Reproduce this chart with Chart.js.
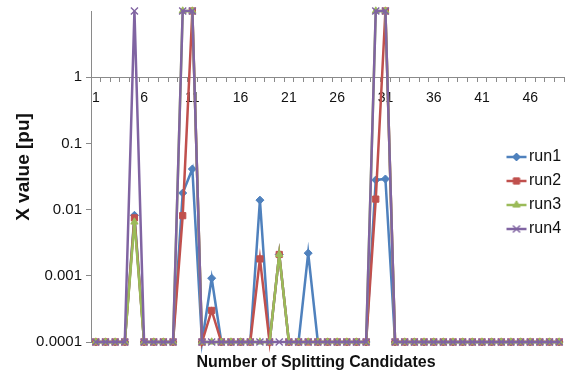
<!DOCTYPE html>
<html>
<head>
<meta charset="utf-8">
<title>X value per splitting candidate</title>
<script src="https://cdn.jsdelivr.net/npm/chart.js@4/dist/chart.umd.min.js"></script>
<style>
  html, body { margin: 0; padding: 0; background: #ffffff; }
  #wrap { width: 571px; height: 379px; }
</style>
</head>
<body>
<div id="wrap"><canvas id="chart" width="571" height="379"></canvas></div>
<script>
// Candidate numbers on the category axis
const candidates = [
  '1','2','3','4','5','6','7','8','9','10',
  '11','12','13','14','15','16','17','18','19','20',
  '21','22','23','24','25','26','27','28','29','30',
  '31','32','33','34','35','36','37','38','39','40',
  '41','42','43','44','45','46','47','48','49'
];

// X value [pu] of each run
const run1 = [
  0.0001, 0.0001, 0.0001, 0.0001, 0.0082, 0.0001, 0.0001, 0.0001, 0.0001, 0.0178,
  0.041,  0.0001, 0.00092, 0.0001, 0.0001, 0.0001, 0.0001, 0.0139, 0.0001, 0.0021,
  0.0001, 0.0001, 0.0022, 0.0001, 0.0001, 0.0001, 0.0001, 0.0001, 0.0001, 0.028,
  0.029,  0.0001, 0.0001, 0.0001, 0.0001, 0.0001, 0.0001, 0.0001, 0.0001, 0.0001,
  0.0001, 0.0001, 0.0001, 0.0001, 0.0001, 0.0001, 0.0001, 0.0001, 0.0001
];
const run2 = [
  0.0001, 0.0001, 0.0001, 0.0001, 0.0075, 0.0001, 0.0001, 0.0001, 0.0001, 0.0081,
  10,     0.0001, 0.0003, 0.0001, 0.0001, 0.0001, 0.0001, 0.0018, 0.0001, 0.0021,
  0.0001, 0.0001, 0.0001, 0.0001, 0.0001, 0.0001, 0.0001, 0.0001, 0.0001, 0.0144,
  10,     0.0001, 0.0001, 0.0001, 0.0001, 0.0001, 0.0001, 0.0001, 0.0001, 0.0001,
  0.0001, 0.0001, 0.0001, 0.0001, 0.0001, 0.0001, 0.0001, 0.0001, 0.0001
];
const run3 = [
  0.0001, 0.0001, 0.0001, 0.0001, 0.0065, 0.0001, 0.0001, 0.0001, 0.0001, 10,
  10,     0.0001, 0.0001, 0.0001, 0.0001, 0.0001, 0.0001, 0.0001, 0.0001, 0.0021,
  0.0001, 0.0001, 0.0001, 0.0001, 0.0001, 0.0001, 0.0001, 0.0001, 0.0001, 10,
  10,     0.0001, 0.0001, 0.0001, 0.0001, 0.0001, 0.0001, 0.0001, 0.0001, 0.0001,
  0.0001, 0.0001, 0.0001, 0.0001, 0.0001, 0.0001, 0.0001, 0.0001, 0.0001
];
const run4 = [
  0.0001, 0.0001, 0.0001, 0.0001, 10,     0.0001, 0.0001, 0.0001, 0.0001, 10,
  10,     0.0001, 0.0001, 0.0001, 0.0001, 0.0001, 0.0001, 0.0001, 0.0001, 0.0001,
  0.0001, 0.0001, 0.0001, 0.0001, 0.0001, 0.0001, 0.0001, 0.0001, 0.0001, 10,
  10,     0.0001, 0.0001, 0.0001, 0.0001, 0.0001, 0.0001, 0.0001, 0.0001, 0.0001,
  0.0001, 0.0001, 0.0001, 0.0001, 0.0001, 0.0001, 0.0001, 0.0001, 0.0001
];

const seriesNames = ['run1', 'run2', 'run3', 'run4'];
const yTickValues = [0.0001, 0.001, 0.01, 0.1, 1];
const yTickLabels = ['0.0001', '0.001', '0.01', '0.1', '1'];
const xTitle = 'Number of Splitting Candidates';
const yTitle = 'X value [pu]';

const FONT = "'Liberation Sans', Arial, sans-serif";
const AXIS_GREY = '#8a8a8a';
const TEXT = '#111111';

const styles = [
  { color: '#4F81BD', pointStyle: 'rectRot',  radius: 4,   border: 1 },
  { color: '#C0504D', pointStyle: 'rect',     radius: 4.4, border: 1 },
  { color: '#9BBB59', pointStyle: 'triangle', radius: 4.2, border: 1 },
  { color: '#8064A2', pointStyle: 'crossRot', radius: 5,   border: 1.4 }
];

// Small line-plus-marker swatches for the legend
function legendSwatch(s) {
  const c = document.createElement('canvas');
  c.width = 22; c.height = 14;
  const g = c.getContext('2d');
  g.strokeStyle = s.color;
  g.lineWidth = 2.5;
  g.beginPath(); g.moveTo(1, 7); g.lineTo(21, 7); g.stroke();
  g.fillStyle = s.color;
  g.lineWidth = s.border;
  Chart.helpers.drawPoint(g, { pointStyle: s.pointStyle, radius: s.radius, borderWidth: s.border }, 11, 7);
  return c;
}
const swatches = styles.map(legendSwatch);

const seriesData = [run1, run2, run3, run4];
const datasets = seriesData.map((values, i) => ({
  label: seriesNames[i],
  data: values,
  borderColor: styles[i].color,
  backgroundColor: styles[i].color,
  borderWidth: 2.5,
  tension: 0,
  pointStyle: styles[i].pointStyle,
  pointRadius: styles[i].radius,
  pointHoverRadius: styles[i].radius,
  pointBackgroundColor: styles[i].color,
  pointBorderColor: styles[i].color,
  pointBorderWidth: styles[i].border,
  clip: false,
  order: seriesData.length - 1 - i   // later runs are painted on top
}));

// Puts the legend over the right side of the plot and centres the two axis titles
const boxPlacement = {
  id: 'boxPlacement',
  afterLayout(chart) {
    const area = chart.chartArea;
    chart.boxes.forEach(box => {
      if (box === chart.legend) {
        box.left = area.right - 60; box.width = 80; box.right = box.left + box.width;
        box.top = area.top + 130; box.height = 112; box.bottom = box.top + box.height;
      } else if (box === chart.titleBlock) {
        const cx = area.left + 225;
        box.left = cx - 170; box.width = 340; box.right = cx + 170;
      } else if (box.options && box.options.text === yTitle) {
        const cy = area.top + 156;
        box.top = cy - 110; box.height = 220; box.bottom = cy + 110;
      }
    });
  }
};

new Chart(document.getElementById('chart'), {
  type: 'line',
  data: { labels: candidates, datasets },
  options: {
    responsive: false,
    animation: false,
    events: [],
    layout: { padding: { top: 11, right: 7, bottom: 0, left: 0 } },
    scales: {
      x: {
        type: 'category',
        position: { y: 1 },
        offset: true,
        grid: { offset: true, drawOnChartArea: false, drawTicks: true, tickLength: 4, color: AXIS_GREY },
        border: { display: true, color: AXIS_GREY, width: 1 },
        ticks: {
          autoSkip: false, maxRotation: 0, minRotation: 0, padding: 9,
          color: TEXT, font: { family: FONT, size: 14 },
          callback(value, index) { return index % 5 === 0 ? this.getLabelForValue(value) : ''; }
        },
        afterFit(scale) { scale.height = 0; scale.paddingLeft = 0; scale.paddingRight = 0; }
      },
      y: {
        type: 'logarithmic',
        position: 'left',
        min: 0.0001,
        max: 10,
        grid: { drawOnChartArea: false, drawTicks: true, tickLength: 5, color: AXIS_GREY },
        border: { display: true, color: AXIS_GREY, width: 1 },
        ticks: {
          padding: 4, color: TEXT, font: { family: FONT, size: 15 },
          callback(value) { const k = yTickValues.indexOf(value); return k >= 0 ? yTickLabels[k] : ''; }
        },
        afterBuildTicks(scale) { scale.ticks = yTickValues.map(v => ({ value: v })); },
        afterFit(scale) { scale.width = 63.6; scale.paddingTop = 0; scale.paddingBottom = 0; }
      }
    },
    plugins: {
      legend: {
        display: true,
        position: 'chartArea',
        align: 'start',
        labels: {
          usePointStyle: true,
          pointStyleWidth: 9,
          padding: 8,
          color: TEXT,
          font: { family: FONT, size: 16 },
          generateLabels(chart) {
            return chart.data.datasets.map((ds, i) => ({
              text: ds.label,
              pointStyle: swatches[i],
              fillStyle: ds.borderColor,
              strokeStyle: ds.borderColor,
              lineWidth: 0,
              hidden: false,
              datasetIndex: i,
              fontColor: TEXT
            }));
          }
        }
      },
      title: {
        display: true,
        text: xTitle,
        position: 'bottom',
        color: TEXT,
        font: { family: FONT, size: 16, weight: 'bold' },
        padding: { top: 11.4, bottom: 6.4 }
      },
      subtitle: {
        display: true,
        text: yTitle,
        position: 'left',
        fullSize: false,
        color: TEXT,
        font: { family: FONT, size: 19, weight: 'bold' },
        padding: { top: 12.6, bottom: -8 }
      },
      tooltip: { enabled: false }
    }
  },
  plugins: [boxPlacement]
});
</script>
</body>
</html>
